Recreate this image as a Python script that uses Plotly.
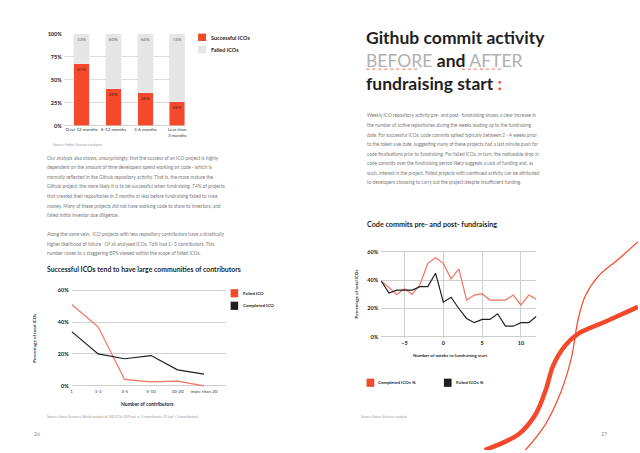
import plotly.graph_objects as go

# --- data ---------------------------------------------------------------
age_labels = ["Over 12 months", "6-12 months", "3-6 months", "Less than<br>3 months"]
successful_pct = [67, 40, 36, 26]
failed_pct = [33, 60, 64, 74]

contrib_labels = ["1", "1-3", "3-5", "5-10", "10-20", "more than 20"]
contrib_failed = [51, 37, 4, 2.5, 3, 0]
contrib_completed = [34, 20, 17, 19, 10, 7.3]

weeks = list(range(-8, 13))
weeks_completed = [39.5, 35, 30, 34, 30, 37, 52, 56, 52, 41, 48, 26, 29.5, 30.5,
                   26, 26, 26, 29.5, 22.5, 29.5, 26.5]
weeks_failed = [39.5, 31, 33, 33, 33, 35.5, 35.5, 45, 24.5, 28, 20, 13, 10, 12.3,
                12.3, 16.3, 7.5, 7.5, 10, 10, 14.5]

pct_ticks_bar = [0, 25, 50, 75, 100]
pct_ticks_line = [0, 20, 40, 60]

# decorative swooshes on page 27 (pixels, y down)
swoosh_thick_x = [486, 520, 537, 547, 555, 567, 580, 607, 640]
swoosh_thick_y = [453, 437, 417, 393, 367, 347, 335, 323, 308]
swoosh_thin_x = [527, 547, 563, 573, 580, 587, 600, 620, 640]
swoosh_thin_y = [453, 427, 393, 360, 320, 297, 277, 260, 242]

para_left_1 = [
    "Our analysis also shows, unsurprisingly, that the success of an ICO project is highly",
    "dependent on the amount of time developers spend working on code - which is",
    "normally reflected in the Github repository activity. That is, the more mature the",
    "Github project, the more likely it is to be successful when fundraising. 74% of projects",
    "that created their repositories in 3 months or less before fundraising failed to raise",
    "money. Many of these projects did not have working code to show to investors, and",
    "failed initial investor due diligence.",
]
para_left_2 = [
    "Along the same vein,  ICO projects with less repository contributors have a drastically",
    "higher likelihood of failure.  Of all analysed ICOs, 76% had 1- 3 contributors. This",
    "number raises to a staggering 89% viewed within the scope of failed ICOs.",
]
para_right = [
    "Weekly ICO repository activity pre- and post- fundraising shows a clear increase in",
    "the number of active repositories during the weeks leading up to the fundraising",
    "date. For successful ICOs, code commits spiked typically between 2 - 4 weeks prior",
    "to the token sale date, suggesting many of these projects had a last minute push for",
    "code finalisations prior to fundraising. For failed ICOs, in turn, the noticeable drop in",
    "code commits over the fundraising period likely suggests a lack of funding and, as",
    "such, interest in the project. Failed projects with continued activity can be attributed",
    "to developers choosing to carry out the project despite insufficient funding.",
]

W, H = 640, 453
RED = "#F4492B"
SALMON = "#F0725F"
DARK = "#1f1f1f"
BODY = "#7a7a7a"
FONT = "Lato"


def px(x):
    return x / W


def py(y):
    return 1 - y / H


annotations = []
shapes = []


def txt(x, y, s, size=5, color=BODY, bold=False, anchor="left", angle=0):
    annotations.append(dict(
        x=px(x), y=py(y), xref="paper", yref="paper", text=s, showarrow=False,
        xanchor=anchor, yanchor="middle", textangle=angle, borderpad=0, align="left",
        font=dict(family=FONT, size=size, color=color,
                  weight="bold" if bold else "normal"),
    ))


def square(x0, y0, x1, y1, color):
    shapes.append(dict(type="rect", xref="paper", yref="paper",
                       x0=px(x0), x1=px(x1), y0=py(y1), y1=py(y0),
                       fillcolor=color, line=dict(width=0)))


fig = go.Figure()

# bar chart: repository age
fig.add_trace(go.Bar(x=age_labels, y=successful_pct, marker_color=RED, width=0.49,
                     texttemplate="%{y}%", textposition="inside", insidetextanchor="end",
                     textangle=0, textfont=dict(family=FONT, size=4.5, color="#5a2018"),
                     xaxis="x", yaxis="y"))
fig.add_trace(go.Bar(x=age_labels, y=failed_pct, marker_color="#E6E6E6", width=0.49,
                     texttemplate="%{y}%", textposition="inside", insidetextanchor="end",
                     textangle=0, textfont=dict(family=FONT, size=4.5, color="#666"),
                     xaxis="x", yaxis="y"))

# contributors line chart
fig.add_trace(go.Scatter(x=list(range(len(contrib_labels))), y=contrib_failed, mode="lines",
                         line=dict(color=SALMON, width=1.2), xaxis="x2", yaxis="y2"))
fig.add_trace(go.Scatter(x=list(range(len(contrib_labels))), y=contrib_completed, mode="lines",
                         line=dict(color=DARK, width=1.2), xaxis="x2", yaxis="y2"))

# weekly commits line chart
fig.add_trace(go.Scatter(x=weeks, y=weeks_completed, mode="lines",
                         line=dict(color=SALMON, width=1.2), xaxis="x3", yaxis="y3"))
fig.add_trace(go.Scatter(x=weeks, y=weeks_failed, mode="lines",
                         line=dict(color=DARK, width=1.2), xaxis="x3", yaxis="y3"))

# swooshes on a hidden full-page overlay
fig.add_trace(go.Scatter(x=swoosh_thick_x, y=swoosh_thick_y, mode="lines",
                         line=dict(color=RED, width=4.5, shape="spline", smoothing=1),
                         xaxis="x4", yaxis="y4", hoverinfo="skip"))
fig.add_trace(go.Scatter(x=swoosh_thin_x, y=swoosh_thin_y, mode="lines",
                         line=dict(color=RED, width=1.2, shape="spline", smoothing=1),
                         xaxis="x4", yaxis="y4", hoverinfo="skip"))

tick_small = dict(family=FONT, size=4.5, color="#333")
tick_bold = dict(family=FONT, size=5.5, color="#222", weight="bold")

fig.update_layout(
    width=W, height=H, margin=dict(l=0, r=0, t=0, b=0),
    paper_bgcolor="white", plot_bgcolor="rgba(0,0,0,0)", showlegend=False,
    barmode="stack", uniformtext=dict(minsize=4, mode="show"),
    xaxis=dict(domain=[px(63), px(185)], range=[-0.5625, 3.25], type="category",
               showgrid=False, showline=False, ticks="", tickfont=tick_small,
               anchor="y"),
    yaxis=dict(domain=[py(124.3), py(31)], range=[0, 100], tickvals=pct_ticks_bar,
               ticktext=["%d%%" % v for v in pct_ticks_bar],
               gridcolor="#dedede", gridwidth=0.8, zeroline=True,
               zerolinecolor="#d0d0d0", zerolinewidth=0.8, tickfont=tick_bold,
               ticklabelstandoff=1, anchor="x"),
    xaxis2=dict(domain=[px(71), px(226)], range=[0, 5.83], tickvals=list(range(6)),
                ticktext=contrib_labels, showgrid=False, zeroline=False, ticks="",
                tickfont=tick_small, anchor="y2"),
    yaxis2=dict(domain=[py(389.6), py(289.4)], range=[-1, 61], tickvals=pct_ticks_line,
                ticktext=["%d%%" % v for v in pct_ticks_line],
                gridcolor="#cfcfcf", gridwidth=0.8, zeroline=False,
                tickfont=tick_bold, ticklabelstandoff=2, anchor="x2"),
    xaxis3=dict(domain=[px(382), px(538)], range=[-8, 12], tickvals=[-5, 0, 5, 10],
                gridcolor="#cfcfcf", gridwidth=0.8, zeroline=False, ticks="",
                tickfont=tick_bold, anchor="y3"),
    yaxis3=dict(domain=[py(339.7), py(250.9)], range=[-1, 61], tickvals=pct_ticks_line,
                ticktext=["%d%%" % v for v in pct_ticks_line],
                gridcolor="#cfcfcf", gridwidth=0.8, zeroline=False,
                tickfont=tick_bold, ticklabelstandoff=2, anchor="x3"),
    xaxis4=dict(domain=[0, 1], range=[0, W], visible=False, fixedrange=True, anchor="y4"),
    yaxis4=dict(domain=[0, 1], range=[H, 0], visible=False, fixedrange=True, anchor="x4"),
)

# --- left page text -------------------------------------------------------
square(198, 31, 206, 38.5, RED)
square(198, 43.5, 206, 51, "#E6E6E6")
txt(210, 35, "Successful ICOs", 5.5, DARK, True)
txt(210, 47.5, "Failed ICOs", 5.5, DARK, True)
txt(51, 144, "Source: Fabric Ventures analysis", 3.5, "#999")

for i, line in enumerate(para_left_1):
    txt(45, 157 + i * 9.65, line, 4.75, BODY)
for i, line in enumerate(para_left_2):
    txt(45, 234.5 + i * 9.65, line, 4.75, BODY)
txt(45, 270, "Successful ICOs tend to have large communities of contributors", 6.9, DARK, True)

square(230.7, 290, 238.3, 298.3, RED)
square(230.7, 302.7, 238.3, 311, DARK)
txt(242, 294, "Failed ICO", 4.5, DARK, True)
txt(242, 306.8, "Completed ICO", 4.5, DARK, True)
txt(33.3, 340, "Percentage of total ICOs", 4.5, DARK, True, anchor="center", angle=-90)
txt(147, 406.7, "Number of contributors", 5, DARK, True, anchor="center")
txt(45, 420, "Source: Fabric Ventures Github analysis of 140 ICOs (109 had <= 3 contributors, "
    "31 had > 3 contributors)", 3.3, "#999")
txt(32, 437, "26", 5, "#888")

# --- right page text ------------------------------------------------------
txt(366, 58,
    "<b>Github commit activity</b><br>"
    "<span style='color:#b0b0b0'>BEFORE</span> <b>and</b> "
    "<span style='color:#b0b0b0'>AFTER</span><br>"
    "<b>fundraising start <span style='color:%s'>:</span></b>" % RED,
    17.5, DARK)
for x0, x1 in [(367, 421), (463, 505)]:
    shapes.append(dict(type="line", xref="paper", yref="paper", x0=px(x0), x1=px(x1),
                       y0=py(67), y1=py(67), line=dict(color=RED, width=0.8, dash="dot")))

for i, line in enumerate(para_right):
    txt(367, 114 + i * 9.65, line, 4.7, BODY)
txt(367, 224, "Code commits pre- and post- fundraising", 7.2, DARK, True)

txt(357, 295, "Percentage of total ICOs", 4.5, DARK, True, anchor="center", angle=-90)
txt(452, 357, "Number of weeks to fundraising start", 4.5, DARK, True, anchor="center")
square(367.3, 380.7, 375, 389, RED)
square(445, 380.7, 452.7, 389, DARK)
txt(378, 385, "Completed ICOs %", 4.5, DARK, True)
txt(456, 385, "Failed ICOs %", 4.5, DARK, True)
txt(361, 419.3, "Source: Fabric Ventures analysis", 3.3, "#999")
txt(606, 437, "27", 5, "#888", anchor="center")

fig.update_layout(annotations=annotations, shapes=shapes)
fig.write_html("out.html", config={"displayModeBar": False},
               post_script="document.body.style.margin='0px';")
